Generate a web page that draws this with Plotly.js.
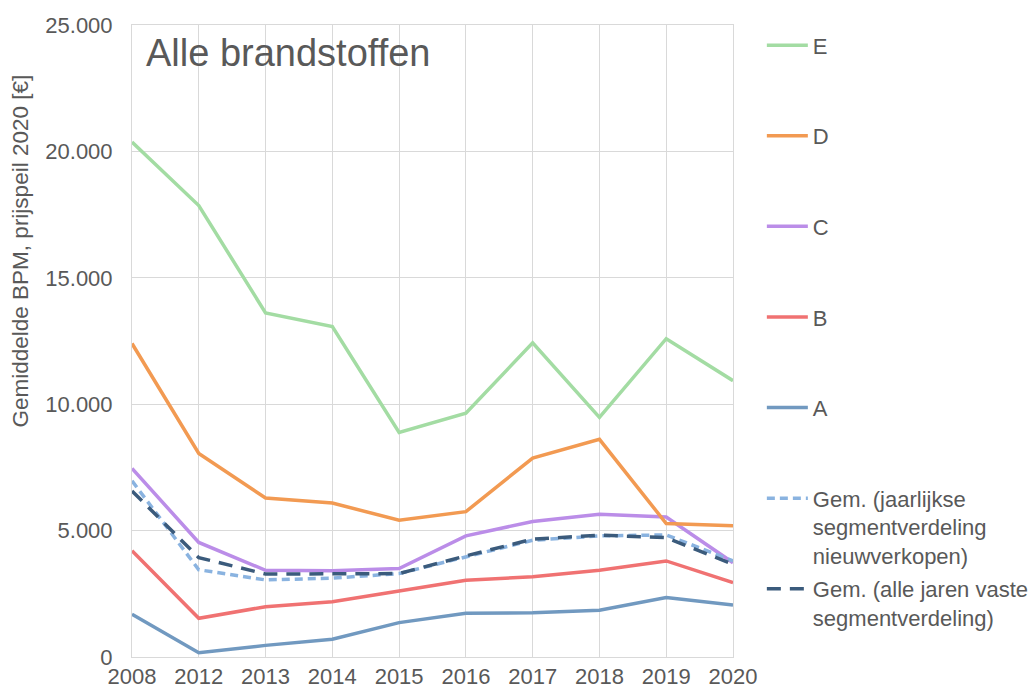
<!DOCTYPE html>
<html>
<head>
<meta charset="utf-8">
<script src="https://cdn.plot.ly/plotly-3.0.1.min.js"></script>
<style>html,body{margin:0;padding:0;background:#fff;}#chart{width:1029px;height:691px;}</style>
</head>
<body>
<div id="chart"></div>
<script>
const years = ["2008","2012","2013","2014","2015","2016","2017","2018","2019","2020"];
const segA = [1690, 170, 460, 700, 1360, 1730, 1750, 1850, 2350, 2060];
const segB = [4200, 1530, 1990, 2190, 2610, 3040, 3170, 3430, 3800, 2940];
const segC = [7460, 4530, 3430, 3410, 3500, 4790, 5360, 5650, 5540, 3730];
const segD = [12400, 8050, 6290, 6090, 5410, 5750, 7870, 8610, 5280, 5190];
const segE = [20370, 17860, 13610, 13070, 8880, 9640, 12430, 9480, 12590, 10930];
const gemJaarlijks = [6970, 3450, 3050, 3120, 3300, 3970, 4620, 4790, 4830, 3800];
const gemVast = [6570, 3930, 3280, 3280, 3300, 4000, 4660, 4820, 4720, 3670];

const names = {
  A: "A", B: "B", C: "C", D: "D", E: "E",
  g1: "Gem. (jaarlijkse<br>segmentverdeling<br>nieuwverkopen)",
  g2: "Gem. (alle jaren vaste<br>segmentverdeling)"
};

function tr(y, name, color, rank, opts) {
  return Object.assign({
    x: years, y: y, name: name, type: "scatter", mode: "lines",
    line: {color: color, width: 3.5},
    legendgroup: name, legendrank: rank, hoverinfo: "skip"
  }, opts || {});
}

const data = [
  tr(segA, names.A, "#7199c0", 5),
  tr(segB, names.B, "#f07272", 4),
  tr(segC, names.C, "#bb8de8", 3),
  tr(segD, names.D, "#f29a52", 2),
  tr(segE, names.E, "#a3dca3", 1),
  tr(gemJaarlijks, names.g1, "#8ab3e0", 6, {line: {color: "#8ab3e0", width: 3.5, dash: "8px,5px"}}),
  tr(gemVast, names.g2, "#3b5b7c", 7, {legend: "legend2", line: {color: "#3b5b7c", width: 3.5, dash: "14px,9px"}})
];

const txt = "#595959";
const layout = {
  width: 1029, height: 691,
  margin: {l: 132, r: 296, t: 25, b: 34, autoexpand: false},
  paper_bgcolor: "#fff", plot_bgcolor: "#fff",
  separators: ",.",
  font: {family: "Liberation Sans, Arial, sans-serif", color: txt, size: 22},
  showlegend: true,
  xaxis: {
    type: "category", range: [0, 9], showgrid: true, gridcolor: "#d9d9d9", gridwidth: 1,
    showline: true, linecolor: "#d9d9d9", mirror: true, ticks: "",
    tickfont: {size: 22, color: txt}, fixedrange: true, automargin: false
  },
  yaxis: {
    range: [0, 25000], dtick: 5000, tick0: 0, tickformat: ",d",
    showgrid: true, gridcolor: "#d9d9d9", gridwidth: 1, zeroline: false,
    showline: true, linecolor: "#d9d9d9", mirror: true, ticks: "",
    ticklabelstandoff: 14, automargin: false,
    tickfont: {size: 22, color: txt}, fixedrange: true
  },
  legend: {
    x: 1.048, xanchor: "left", y: 1.001, yanchor: "top",
    font: {size: 22, color: txt}, tracegroupgap: 59, valign: "top", itemwidth: 41,
    bgcolor: "rgba(0,0,0,0)", itemclick: false, itemdoubleclick: false, maxheight: 1
  },
  legend2: {
    x: 1.048, xanchor: "left", y: 0.141, yanchor: "top",
    font: {size: 22, color: txt}, valign: "top", itemwidth: 41,
    bgcolor: "rgba(0,0,0,0)", itemclick: false, itemdoubleclick: false, maxheight: 1
  },
  annotations: [
    {text: "Alle brandstoffen", xref: "paper", yref: "paper", x: 0.02, y: 0.955,
     xanchor: "left", yanchor: "middle", showarrow: false,
     font: {size: 38, color: txt}},
    {text: "Gemiddelde BPM, prijspeil 2020 [€]", xref: "paper", yref: "paper",
     x: -0.186, y: 0.642, xanchor: "center", yanchor: "middle", textangle: -90,
     showarrow: false, font: {size: 22.5, color: txt}}
  ]
};

Plotly.newPlot("chart", data, layout, {staticPlot: true, displayModeBar: false});
</script>
</body>
</html>
